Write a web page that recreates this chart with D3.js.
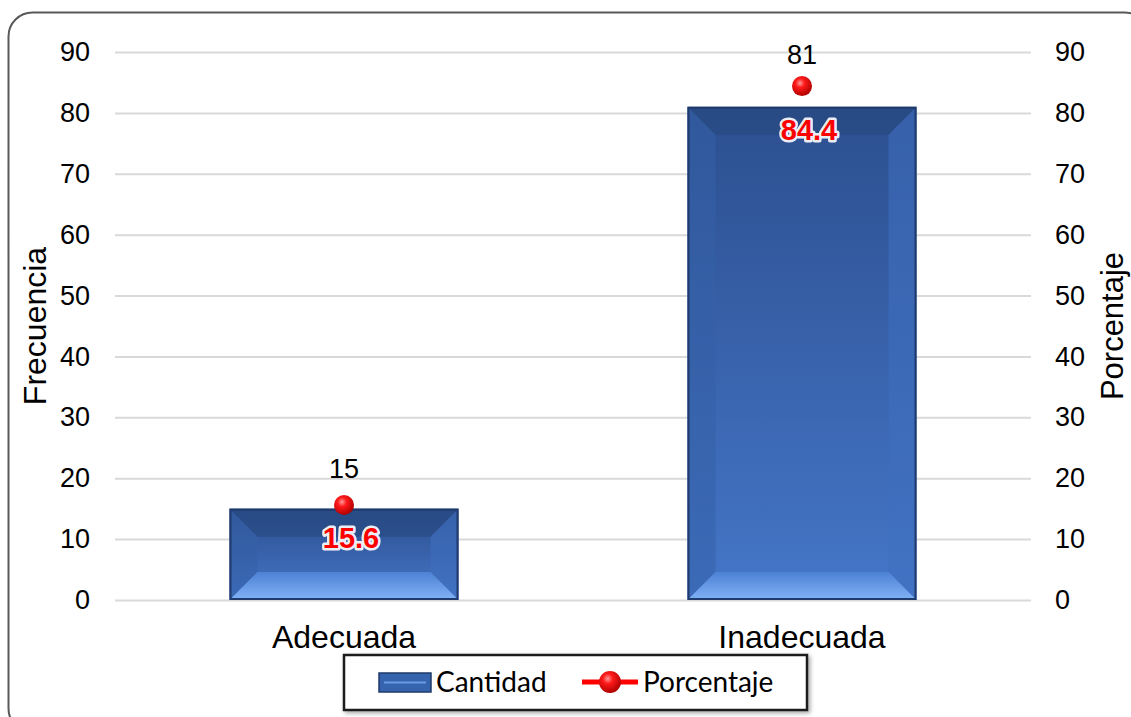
<!DOCTYPE html>
<html>
<head>
<meta charset="utf-8">
<script src="https://cdn.jsdelivr.net/npm/d3@7"></script>
<style>
  html, body { margin: 0; padding: 0; background: #fff; }
  svg { display: block; }
</style>
</head>
<body>
<div id="chart"></div>
<script>
  // data
  const categories = ['Adecuada', 'Inadecuada'];
  const cantidad = [15, 81];
  const porcentaje = [15.6, 84.4];
  const yTicks = [0, 10, 20, 30, 40, 50, 60, 70, 80, 90];

  const W = 1131, H = 717;
  const plot = { left: 115, right: 1031, top: 52, bottom: 600 };
  const FONT = 'Liberation Sans, Arial, sans-serif';

  const svg = d3.select('#chart').append('svg')
    .attr('width', W).attr('height', H);

  const defs = svg.append('defs');

  // bar body gradient
  const bg = defs.append('linearGradient').attr('id', 'barFill')
    .attr('x1', 0).attr('y1', 0).attr('x2', 0).attr('y2', 1);
  bg.append('stop').attr('offset', '0%').attr('stop-color', '#2c4f8f');
  bg.append('stop').attr('offset', '100%').attr('stop-color', '#4576c8');

  const botBevel = defs.append('linearGradient').attr('id', 'bevelBottom')
    .attr('x1', 0).attr('y1', 0).attr('x2', 0).attr('y2', 1);
  botBevel.append('stop').attr('offset', '0%').attr('stop-color', '#4d82d4');
  botBevel.append('stop').attr('offset', '100%').attr('stop-color', '#80b2f6');

  const dotGrad = defs.append('radialGradient').attr('id', 'dotFill')
    .attr('cx', '40%').attr('cy', '35%').attr('r', '65%');
  dotGrad.append('stop').attr('offset', '0%').attr('stop-color', '#ff9a9a');
  dotGrad.append('stop').attr('offset', '35%').attr('stop-color', '#ff1a1a');
  dotGrad.append('stop').attr('offset', '100%').attr('stop-color', '#b00000');

  const legendShadow = defs.append('filter').attr('id', 'legShadow')
    .attr('x', '-5%').attr('y', '-20%').attr('width', '110%').attr('height', '140%');
  legendShadow.append('feDropShadow').attr('dx', 2).attr('dy', 2)
    .attr('stdDeviation', 2).attr('flood-color', '#000').attr('flood-opacity', 0.35);

  // outer frame
  svg.append('rect')
    .attr('x', 8.5).attr('y', 12.5).attr('width', 1140).attr('height', 720)
    .attr('rx', 24).attr('ry', 24)
    .attr('fill', 'none').attr('stroke', '#595959').attr('stroke-width', 2);

  const x = d3.scaleBand().domain(categories)
    .range([plot.left, plot.right]).paddingInner(0.5).paddingOuter(0.25);
  const yL = d3.scaleLinear().domain([0, 90]).range([plot.bottom, plot.top]);
  const yR = d3.scaleLinear().domain([0, 90]).range([plot.bottom, plot.top]);

  // gridlines
  svg.append('g').selectAll('line').data(yTicks).join('line')
    .attr('x1', plot.left).attr('x2', plot.right)
    .attr('y1', d => yL(d) + 0.5).attr('y2', d => yL(d) + 0.5)
    .attr('stroke', '#d9d9d9').attr('stroke-width', 2);

  // left axis
  const axL = svg.append('g').attr('transform', `translate(${plot.left},0)`)
    .call(d3.axisLeft(yL).tickValues(yTicks).tickSize(0).tickPadding(25));
  axL.select('.domain').remove();
  axL.selectAll('text').attr('font-family', FONT)
    .attr('font-size', 27).attr('fill', '#000');

  // right axis
  const axR = svg.append('g').attr('transform', `translate(${plot.right},0)`)
    .call(d3.axisRight(yR).tickValues(yTicks).tickSize(0).tickPadding(24));
  axR.select('.domain').remove();
  axR.selectAll('text').attr('font-family', FONT)
    .attr('font-size', 27).attr('fill', '#000');

  // category axis labels
  svg.append('g').selectAll('text').data(categories).join('text')
    .attr('x', d => x(d) + x.bandwidth() / 2).attr('y', 648)
    .attr('text-anchor', 'middle')
    .attr('font-family', FONT)
    .attr('font-size', 32).attr('fill', '#000')
    .text(d => d);

  // axis titles
  svg.append('text')
    .attr('transform', `translate(46,${(plot.top + plot.bottom) / 2}) rotate(-90)`)
    .attr('text-anchor', 'middle')
    .attr('font-family', FONT)
    .attr('font-size', 32).attr('fill', '#000').text('Frecuencia');
  svg.append('text')
    .attr('transform', `translate(1123,${(plot.top + plot.bottom) / 2}) rotate(-90)`)
    .attr('text-anchor', 'middle')
    .attr('font-family', FONT)
    .attr('font-size', 31).attr('fill', '#000').text('Porcentaje');

  // bars with bevel
  const bev = 28;
  const bars = svg.append('g').selectAll('g').data(categories).join('g');
  bars.each(function (c, i) {
    const g = d3.select(this);
    const x0 = x(c), x1 = x(c) + x.bandwidth();
    const y0 = yL(cantidad[i]), y1 = yL(0);
    const b = Math.min(bev, (y1 - y0) / 2.2);
    g.append('rect').attr('x', x0).attr('y', y0)
      .attr('width', x1 - x0).attr('height', y1 - y0).attr('fill', 'url(#barFill)');
    // top bevel (darker)
    g.append('polygon')
      .attr('points', [[x0, y0], [x1, y0], [x1 - b, y0 + b], [x0 + b, y0 + b]].join(' '))
      .attr('fill', '#27477f').attr('opacity', 0.6);
    // left bevel
    g.append('polygon')
      .attr('points', [[x0, y0], [x0 + b, y0 + b], [x0 + b, y1 - b], [x0, y1]].join(' '))
      .attr('fill', '#3561a8').attr('opacity', 0.55);
    // right bevel
    g.append('polygon')
      .attr('points', [[x1, y0], [x1 - b, y0 + b], [x1 - b, y1 - b], [x1, y1]].join(' '))
      .attr('fill', '#4070c0').attr('opacity', 0.55);
    // bottom bevel (light)
    g.append('polygon')
      .attr('points', [[x0, y1], [x0 + b, y1 - b], [x1 - b, y1 - b], [x1, y1]].join(' '))
      .attr('fill', 'url(#bevelBottom)');
    g.append('rect').attr('x', x0 + 1).attr('y', y0 + 1)
      .attr('width', x1 - x0 - 2).attr('height', y1 - y0 - 2)
      .attr('fill', 'none').attr('stroke', '#1f3a6b').attr('stroke-width', 2);
  });

  // bar value labels (kept clear of the percentage dot)
  svg.append('g').selectAll('text').data(categories).join('text')
    .attr('x', d => x(d) + x.bandwidth() / 2)
    .attr('y', (d, i) => Math.min(yL(cantidad[i]) - 31, yR(porcentaje[i]) - 22))
    .attr('text-anchor', 'middle')
    .attr('font-family', FONT)
    .attr('font-size', 27).attr('fill', '#000')
    .text((d, i) => cantidad[i]);

  // percentage points
  svg.append('g').selectAll('circle').data(categories).join('circle')
    .attr('cx', d => x(d) + x.bandwidth() / 2)
    .attr('cy', (d, i) => yR(porcentaje[i]))
    .attr('r', 10).attr('fill', 'url(#dotFill)');

  // percentage labels (red bold with white halo)
  const labelY = i => Math.max(yR(porcentaje[i]) + 43, yL(cantidad[i]) + 33);
  const pl = svg.append('g').selectAll('g').data(categories).join('g');
  pl.append('text')
    .attr('x', d => x(d) + x.bandwidth() / 2 + 7)
    .attr('y', (d, i) => labelY(i))
    .attr('text-anchor', 'middle')
    .attr('font-family', FONT)
    .attr('font-weight', 'bold').attr('font-size', 29)
    .attr('fill', 'none').attr('stroke', '#fff').attr('stroke-width', 5)
    .attr('stroke-linejoin', 'round').attr('opacity', 0.9)
    .text((d, i) => porcentaje[i].toFixed(1));
  pl.append('text')
    .attr('x', d => x(d) + x.bandwidth() / 2 + 7)
    .attr('y', (d, i) => labelY(i))
    .attr('text-anchor', 'middle')
    .attr('font-family', FONT)
    .attr('font-weight', 'bold').attr('font-size', 29)
    .attr('fill', '#ff0000')
    .text((d, i) => porcentaje[i].toFixed(1));

  // legend
  const leg = svg.append('g');
  leg.append('rect').attr('x', 344).attr('y', 655).attr('width', 463).attr('height', 55)
    .attr('fill', '#fff').attr('stroke', '#1a1a1a').attr('stroke-width', 2.5)
    .attr('filter', 'url(#legShadow)');
  leg.append('rect').attr('x', 379).attr('y', 673).attr('width', 52).attr('height', 19)
    .attr('fill', '#3563ad').attr('stroke', '#1f3a6b').attr('stroke-width', 1.5);
  leg.append('line').attr('x1', 384).attr('x2', 426).attr('y1', 682.5).attr('y2', 682.5)
    .attr('stroke', '#6a9be0').attr('stroke-width', 2);
  leg.append('text').attr('x', 436).attr('y', 692)
    .attr('font-family', 'Lato, Carlito, sans-serif').attr('font-size', 28)
    .attr('fill', '#000').text('Cantidad');
  leg.append('line').attr('x1', 582).attr('x2', 638).attr('y1', 682).attr('y2', 682)
    .attr('stroke', '#ff0000').attr('stroke-width', 5);
  leg.append('circle').attr('cx', 610).attr('cy', 682).attr('r', 11)
    .attr('fill', 'url(#dotFill)');
  leg.append('text').attr('x', 643).attr('y', 692)
    .attr('font-family', 'Lato, Carlito, sans-serif').attr('font-size', 28)
    .attr('fill', '#000').text('Porcentaje');
</script>
</body>
</html>
